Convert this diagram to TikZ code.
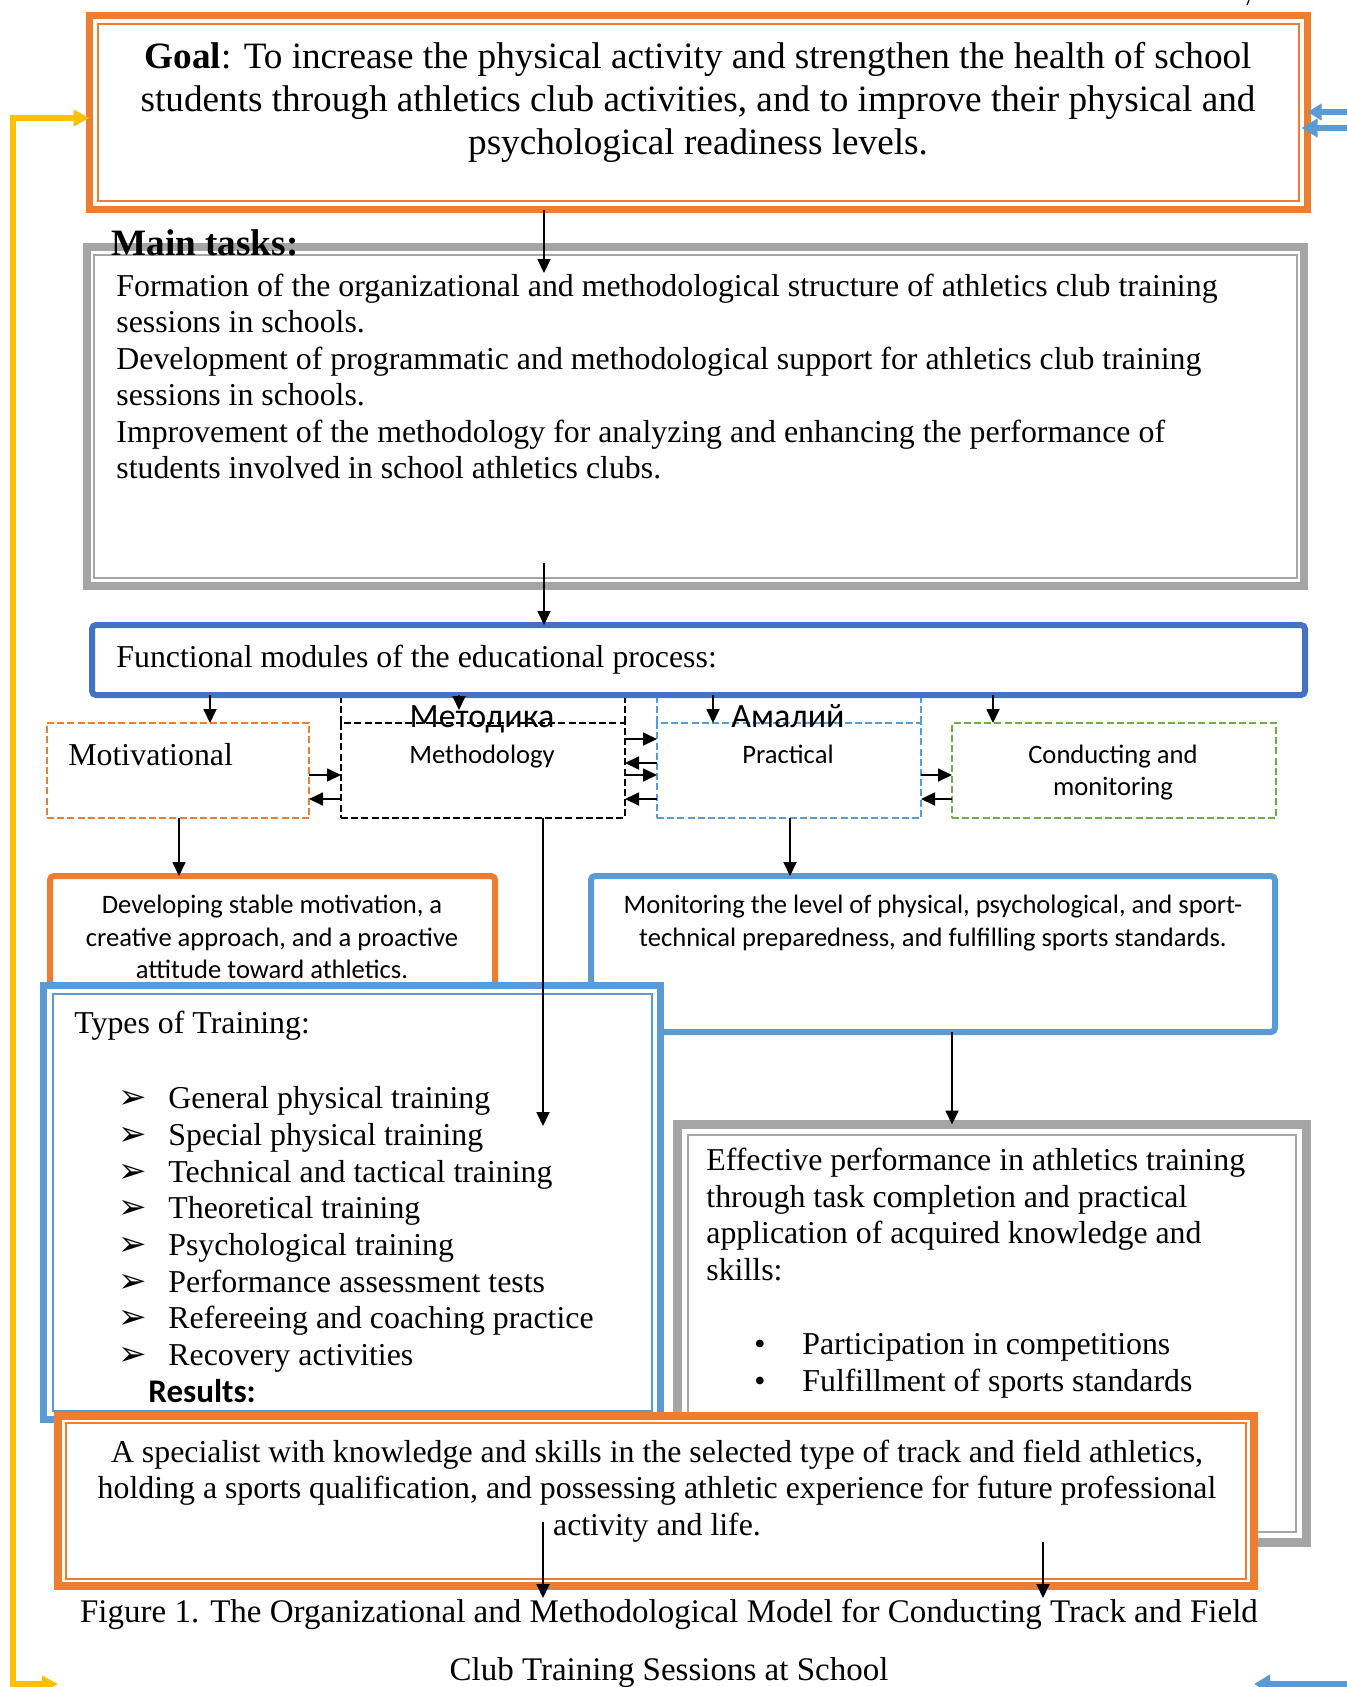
\documentclass[tikz,border=0pt]{standalone}
\usepackage{fontspec}
\setmainfont{Liberation Serif}
\newfontfamily\calfont{Carlito}
\newfontfamily\dvfont{DejaVu Sans}
\usetikzlibrary{arrows.meta,fit}
\definecolor{orng}{HTML}{ED7D31}
\definecolor{grayb}{HTML}{A5A5A5}
\definecolor{blued}{HTML}{4472C4}
\definecolor{bluel}{HTML}{5B9BD5}
\definecolor{grn}{HTML}{70AD47}
\definecolor{yel}{HTML}{FFC000}
\begin{document}
\begin{tikzpicture}[x=0.5pt,y=-0.5pt,
  box/.style={inner sep=0pt, outer sep=0pt, fill=white, draw},
  modbox/.style={box, line width=1.2pt, dash pattern=on 3.5pt off 1.6pt},
  dashext/.style={line width=1.2pt, dash pattern=on 3.5pt off 1.6pt},
  tr/.style={inner sep=0pt, font=\fontsize{15.92pt}{18pt}\selectfont},
  gl/.style={inner sep=0pt, font=\fontsize{18.6pt}{21pt}\selectfont},
  cb/.style={inner sep=0pt, font=\calfont\fontsize{13.3pt}{16pt}\selectfont},
  cbig/.style={inner sep=0pt, font=\calfont\fontsize{17pt}{20pt}\selectfont},
  captxt/.style={inner sep=0pt, font=\fontsize{16.5pt}{20pt}\selectfont},
  bul/.style={inner sep=0pt, font=\dvfont\fontsize{17pt}{19pt}\selectfont},
  arr/.style={line width=0.9pt, -{Triangle[length=7pt,width=6.5pt]}},
  thinline/.style={line width=1pt}
]
\useasboundingbox (0,0) rectangle (1347,1687);
\clip (0,0) rectangle (1347,1687);
\fill[white] (0,0) rectangle (1347,1687);

% ---------- Goal ----------
\node[box, draw=orng, line width=3.5pt, fit={(89.5,15.5) (1307.5,209.5)}] (goal) {};
\draw[orng, thinline] ([shift={(8.5,8.5)}]goal.north west) rectangle ([shift={(-8.5,-8.5)}]goal.south east);
\node[gl, anchor=base] (g1) at (698,68) {\textbf{Goal}: To increase the physical activity and strengthen the health of school};
\node[gl, anchor=base] (g2) at (698,111) {students through athletics club activities, and to improve their physical and};
\node[gl, anchor=base] (g3) at (698,154) {psychological readiness levels.};

% ---------- Main tasks ----------
\node[box, draw=grayb, line width=4pt, fit={(87,247) (1304,586)}] (tasks) {};
\draw[grayb, thinline] ([shift={(7,8)}]tasks.north west) rectangle ([shift={(-7,-8)}]tasks.south east);
\node[gl, anchor=base west] (mt) at (111,255) {\textbf{Main tasks:}};
\node[tr, anchor=base west] (t1) at (116,296) {Formation of the organizational and methodological structure of athletics club training};
\node[tr, anchor=base west] (t2) at (116,332.5) {sessions in schools.};
\node[tr, anchor=base west] (t3) at (116,369) {Development of programmatic and methodological support for athletics club training};
\node[tr, anchor=base west] (t4) at (116,405.5) {sessions in schools.};
\node[tr, anchor=base west] (t5) at (116,442) {Improvement of the methodology for analyzing and enhancing the performance of};
\node[tr, anchor=base west] (t6) at (116,478.5) {students involved in school athletics clubs.};

% ---------- Module boxes ----------
\node[modbox, draw=orng, fit={(47,723) (309,818)}] (mot) {};
\node[modbox, draw=black, fit={(341,723) (625,818)}] (meth) {};
\node[modbox, draw=bluel, fit={(657,723) (921,818)}] (prac) {};
\node[modbox, draw=grn, fit={(952,723) (1276,818)}] (cond) {};
\coordinate (topext) at (0,690);
\draw[dashext, black] (meth.north west) -- (meth.north west |- topext);
\draw[dashext, black] (meth.north east) -- (meth.north east |- topext);
\draw[dashext, bluel] (prac.north west) -- (prac.north west |- topext);
\draw[dashext, bluel] (prac.north east) -- (prac.north east |- topext);

% ---------- Functional modules ----------
\node[box, draw=blued, line width=3pt, rounded corners=2pt, fit={(92,625) (1305,695)}] (func) {};
\node[tr, anchor=base west] (fm) at (116,667) {Functional modules of the educational process:};

\node[tr, anchor=base west] (motT) at (68,765) {Motivational};
\node[cbig, anchor=base] (methR) at (482,727) {Методика};
\node[cb, anchor=base] (methE) at (482,763) {Methodology};
\node[cbig, anchor=base] (pracR) at (788,727) {Амалий};
\node[cb, anchor=base] (pracE) at (788,763) {Practical};
\node[cb, anchor=base] (cond1) at (1113,763) {Conducting and};
\node[cb, anchor=base] (cond2) at (1113,795) {monitoring};

% ---------- Developing / Monitoring ----------
\node[box, draw=orng, line width=3pt, rounded corners=2pt, fit={(50,876) (495,990)}] (dev) {};
\node[cb, anchor=base] (dev1) at (272,913) {Developing stable motivation, a};
\node[cb, anchor=base] (dev2) at (272,946) {creative approach, and a proactive};
\node[cb, anchor=base] (dev3) at (272,978) {attitude toward athletics.};

\node[box, draw=bluel, line width=3pt, rounded corners=2pt, fit={(591,876) (1275,1032)}] (mon) {};
\node[cb, anchor=base] (mon1) at (933,913) {Monitoring the level of physical, psychological, and sport-};
\node[cb, anchor=base] (mon2) at (933,946) {technical preparedness, and fulfilling sports standards.};

% ---------- Types of training ----------
\node[box, draw=bluel, line width=3.5pt, fit={(43.5,985.5) (660.5,1419.5)}] (types) {};
\draw[bluel, thinline] ([shift={(9,8.5)}]types.north west) rectangle ([shift={(-8.5,-8.5)}]types.south east);
\node[tr, anchor=base west] (ty0) at (74,1033) {Types of Training:};
\foreach \i/\yy/\tx in {1/1108/General physical training,
                         2/1145/Special physical training,
                         3/1182/Technical and tactical training,
                         4/1218/Theoretical training,
                         5/1255/Psychological training,
                         6/1292/Performance assessment tests,
                         7/1328/Refereeing and coaching practice,
                         8/1365/Recovery activities}{
  \node[bul, anchor=base west] (b\i) at (118,\yy) {➢};
  \node[tr, anchor=base west] (ty\i) at (168,\yy) {\tx};
}
\node[inner sep=0pt, font=\calfont\bfseries\fontsize{16.5pt}{18pt}\selectfont, anchor=base west] (resT) at (148,1402) {Results:};

% ---------- Effective performance ----------
\node[box, draw=grayb, line width=4.5pt, fit={(677.5,1124.5) (1306.5,1542.5)}] (eff) {};
\draw[grayb, thinline] ([shift={(10.5,10.5)}]eff.north west) rectangle ([shift={(-10.5,-10.5)}]eff.south east);
\node[tr, anchor=base west] (ef1) at (706,1170) {Effective performance in athletics training};
\node[tr, anchor=base west] (ef2) at (706,1207) {through task completion and practical};
\node[tr, anchor=base west] (ef3) at (706,1243) {application of acquired knowledge and};
\node[tr, anchor=base west] (ef4) at (706,1280) {skills:};
\node[tr, anchor=base] (eb1) at (760,1354) {•};
\node[tr, anchor=base west] (ei1) at (802,1354) {Participation in competitions};
\node[tr, anchor=base] (eb2) at (760,1391) {•};
\node[tr, anchor=base west] (ei2) at (802,1391) {Fulfillment of sports standards};

% ---------- Results ----------
\node[box, draw=orng, line width=4pt, fit={(58,1416) (1254,1586)}] (res) {};
\draw[orng, thinline] ([shift={(8,7)}]res.north west) rectangle ([shift={(-8,-7)}]res.south east);
\node[tr, anchor=base] (r1) at (657,1462) {A specialist with knowledge and skills in the selected type of track and field athletics,};
\node[tr, anchor=base] (r2) at (657,1498.5) {holding a sports qualification, and possessing athletic experience for future professional};
\node[tr, anchor=base] (r3) at (657,1535) {activity and life.};

% ---------- Caption ----------
\node[captxt, anchor=base] (cap1) at (669,1622) {Figure 1. The Organizational and Methodological Model for Conducting Track and Field};
\node[captxt, anchor=base] (cap2) at (669,1680) {Club Training Sessions at School};

% ---------- Connectors ----------
\coordinate (xA) at (544,0);
\coordinate (tipA) at (544,273);
\draw[arr] (goal.south -| xA) -- (tipA);
\coordinate (startB) at (544,563);
\draw[arr] (startB) -- (startB |- func.north);

\coordinate (x1) at (210,0);
\coordinate (x2) at (459,710);
\coordinate (x3) at (713,0);
\coordinate (x4) at (993,0);
\draw[arr] (func.south -| x1) -- (mot.north -| x1);
\draw[arr] (func.south -| x2) -- (x2);
\draw[arr] (func.south -| x3) -- (prac.north -| x3);
\draw[arr] (func.south -| x4) -- (cond.north -| x4);

\coordinate (ya) at (0,739);
\coordinate (yb) at (0,763);
\coordinate (yc) at (0,775);
\coordinate (yd) at (0,799);
\draw[arr] (mot.east |- yc) -- (meth.west |- yc);
\draw[arr] (meth.west |- yd) -- (mot.east |- yd);
\draw[arr] (meth.east |- ya) -- (prac.west |- ya);
\draw[arr] (prac.west |- yb) -- (meth.east |- yb);
\draw[arr] (meth.east |- yc) -- (prac.west |- yc);
\draw[arr] (prac.west |- yd) -- (meth.east |- yd);
\draw[arr] (prac.east |- yc) -- (cond.west |- yc);
\draw[arr] (cond.west |- yd) -- (prac.east |- yd);

\coordinate (x5) at (179,0);
\coordinate (x6) at (790,0);
\coordinate (x7) at (952,0);
\coordinate (tipM) at (543,1126);
\draw[arr] (mot.south -| x5) -- (dev.north -| x5);
\draw[arr] (meth.south -| tipM) -- (tipM);
\draw[arr] (prac.south -| x6) -- (mon.north -| x6);
\draw[arr] (mon.south -| x7) -- (eff.north -| x7);

\coordinate (r1s) at (543,1522);
\coordinate (r1e) at (543,1598);
\coordinate (r2s) at (1043,1542);
\coordinate (r2e) at (1043,1598);
\draw[arr] (r1s) -- (r1e);
\draw[arr] (r2s) -- (r2e);

% yellow feedback connector
\coordinate (yEnd) at (58,1684);
\coordinate (yCorner) at (13,1684);
\coordinate (yTop) at (13,118);
\draw[yel, line width=3pt, {Triangle[length=8pt,width=8pt]}-{Triangle[length=8pt,width=8pt]}]
  (yEnd) -- (yCorner) -- (yTop) -- (goal.west |- yTop);

% blue feedback connectors
\coordinate (bU) at (1352,112);
\coordinate (bL) at (1352,128);
\coordinate (bB) at (1352,1684);
\coordinate (bBt) at (1254,1684);
\draw[bluel, line width=3pt, -{Triangle[length=7pt,width=8pt]}] (bU) -- (goal.east |- bU);
\draw[bluel, line width=3pt, -{Triangle[length=8pt,width=9pt]}] (bL) -- ([xshift=-3]goal.east |- bL);
\draw[bluel, line width=3pt, -{Triangle[length=8pt,width=9pt]}] (bB) -- (bBt);

\coordinate (mk1) at (1249,0);
\coordinate (mk2) at (1247,5);
\draw[line width=0.6pt] (mk1) -- (mk2);
\end{tikzpicture}
\end{document}
